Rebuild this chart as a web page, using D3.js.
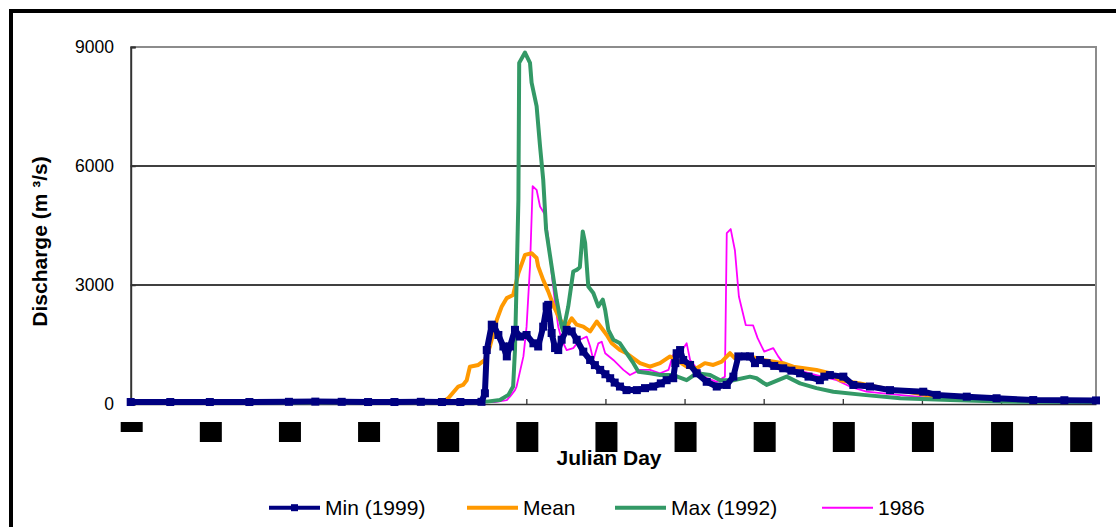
<!DOCTYPE html>
<html>
<head>
<meta charset="utf-8">
<script src="https://cdn.jsdelivr.net/npm/d3@7"></script>
<style>
  html, body { margin: 0; padding: 0; background: #fff; }
  svg { display: block; font-family: "Liberation Sans", Arial, sans-serif; }
</style>
</head>
<body>
<svg id="chart" width="1116" height="527"></svg>
<script>
// daily discharge, [julian day, m3/s]
var min1999 = [[0,50],[15,50],[30,50],[45,50],[60,55],[70,60],[80,55],[90,50],[100,50],[110,55],[118,50],[125,50],[133,55],[134.3,270],[135,1360],[136.9,2000],[137.8,1950],
    [139.4,1740],[141.3,1450],[142.6,1200],[143.8,1450],[145.7,1870],[147.6,1700],[150.1,1740],[152.7,1530],[154.5,1450],
    [156.4,1950],[157.7,2460],[158.3,2500],[159.6,1790],[160.9,1410],[162.1,1360],[163.4,1620],[165.3,1870],[167.2,1830],
    [169.1,1620],[171.6,1320],[174.2,1110],[176,980],[178,860],[180,750],[181.8,650],[183.5,540],[185.5,440],[188,350],
    [191.9,350],[195,400],[198.1,440],[201,520],[203.2,600],[205.7,650],[206.5,1030],[207,1280],[208.3,1360],[209.5,1110],
    [212.1,985],[214.6,775],[218.4,560],[222.2,440],[226,480],[228.5,690],[230.4,1200],[233,1200],[234.8,1200],[236.7,1030],
    [238.6,1110],[241.1,1030],[244,960],[247.4,900],[250.5,840],[253.8,775],[257,690],[261.3,600],[263,690],[265.1,730],
    [270.2,690],[274,480],[280.3,440],[287.9,350],[300.5,310],[305.6,230],[317,185],[328.3,145],[342.2,100],[354,95],[366,90]];

var meanQ = [[0,30],[60,30],[100,35],[118,40],[120.4,145],[122.5,310],[124.2,440],[126,480],[127.4,600],[128.6,940],[131.8,985],
    [134.3,1110],[136.2,1450],[138.8,2120],[140.7,2460],[142.6,2670],[145,2750],[147,3300],[149.5,3760],[152,3800],
    [153.9,3680],[154.5,3470],[156.4,3130],[158.3,2840],[160.2,2500],[162.8,2120],[165.3,1950],[167.2,2160],[169.1,2000],
    [171.6,1950],[174.2,1830],[176.7,2080],[178.6,1910],[180.5,1740],[182.4,1530],[185.5,1360],[188,1280],[190.6,1150],
    [193.1,1030],[196.9,940],[200.7,1030],[204.5,1200],[207,1110],[210.8,940],[214.6,900],[217.7,1030],[220.9,985],
    [224.1,1070],[227.2,1280],[229.1,1150],[234.8,1200],[239.8,1110],[247.4,1030],[251.2,940],[260,860],[265.1,775],
    [268.9,600],[276.5,520],[285.3,400],[298,270],[308,145],[323,100],[366,70]];

var max1992 = [[0,30],[60,30],[100,35],[130,40],[135,60],[140,100],[143.2,230],[145,440],[145.7,1360],[146.3,3050],[147,5150],
    [147.3,8600],[149.5,8860],[151.4,8600],[152,8100],[153.9,7510],[155.2,6500],[156.4,5660],[157.5,4400],[159.6,3470],
    [161.5,2630],[163.4,1950],[164,1830],[165.9,2460],[167.8,3340],[169.1,3380],[170.3,3450],[171.4,4350],[172.3,4060],
    [173.5,2960],[175.4,2800],[177.3,2460],[179,2630],[179.9,2370],[181.1,1870],[183,1620],[185.5,1530],[188,1280],
    [190.6,1030],[192.5,815],[196.9,775],[200.7,730],[205.7,730],[210.8,600],[214.6,775],[219.7,730],[223.5,600],
    [228.5,600],[234.8,690],[237.3,650],[241.1,480],[248.7,690],[253.8,520],[260,400],[266.4,310],[277.8,230],
    [291.8,145],[310.7,100],[330,60],[366,50]];

var y1986 = [[0,30],[60,30],[100,35],[138,50],[142.6,100],[143.8,185],[145.7,350],[146.3,440],[148.9,1200],[150.1,1950],
    [151.4,3470],[152.4,5490],[153.9,5400],[155.2,4980],[157.1,4770],[158.3,4200],[159.6,3300],[160.9,2540],[162.1,1950],
    [163.4,1620],[165.3,1360],[167.8,1410],[170.3,1620],[172.9,1700],[174.2,1450],[175.4,1110],[177.3,1530],[178.6,1570],
    [179.9,1280],[183,1110],[186.8,860],[189.3,730],[193.1,860],[196.9,860],[200.7,775],[203.9,860],[205.7,1240],
    [208.3,1280],[210.8,1530],[212.1,1110],[214.6,900],[218.4,650],[222.2,560],[225.3,690],[226,4310],[227.5,4410],
    [229.1,3870],[230.6,2710],[233.2,1990],[236,1980],[237.7,1660],[240.2,1320],[243.6,1410],[245.5,1200],[247.4,1030],
    [252.5,860],[260,730],[267.7,600],[272.7,440],[279,310],[285.3,270],[298,185],[310.7,100],[330,80],[366,60]];

var seriesNames = ["Min (1999)", "Mean", "Max (1992)", "1986"];
var yTicks = [0, 3000, 6000, 9000];
var xTicks = [0, 30, 60, 90, 120, 150, 180, 210, 240, 270, 300, 330, 360];

var svg = d3.select("#chart");

// outer frame
svg.append("rect")
    .attr("x", 11).attr("y", 11)
    .attr("width", 1200).attr("height", 600)
    .attr("fill", "#fff")
    .attr("stroke", "#000")
    .attr("stroke-width", 4);

var x = d3.scaleLinear().domain([0, 366]).range([130.7, 1096]);
var y = d3.scaleLinear().domain([0, 9000]).range([404, 47]);

// gridlines
svg.append("g")
    .selectAll("line")
    .data([3000, 6000])
    .enter()
    .append("line")
    .attr("x1", x(0)).attr("x2", x(366))
    .attr("y1", function (d) { return y(d); })
    .attr("y2", function (d) { return y(d); })
    .attr("stroke", "#000")
    .attr("stroke-width", 1.3);

// plot border top / right
svg.append("path")
    .attr("d", "M" + x(0) + "," + y(9000) + "H" + x(366) + "V" + y(0))
    .attr("fill", "none")
    .attr("stroke", "#8c8c8c")
    .attr("stroke-width", 2);

// y axis
var yAxis = d3.axisRight(y)
    .tickValues(yTicks)
    .tickSize(5)
    .tickFormat("");
var gy = svg.append("g")
    .attr("transform", "translate(" + x(0) + ",0)")
    .call(yAxis);
gy.select(".domain").attr("stroke", "#333").attr("stroke-width", 2);
gy.selectAll(".tick line").attr("stroke", "#333").attr("stroke-width", 1.5);

svg.append("g")
    .selectAll("text")
    .data(yTicks)
    .enter()
    .append("text")
    .attr("x", 114)
    .attr("y", function (d) { return y(d); })
    .attr("dy", "0.36em")
    .attr("text-anchor", "end")
    .style("font-size", "17.5px")
    .attr("fill", "#000")
    .text(function (d) { return d; });

// x axis, ticks point up into the plot
var xAxis = d3.axisTop(x)
    .tickValues(xTicks)
    .tickSize(5)
    .tickSizeOuter(0)
    .tickFormat("");
var gx = svg.append("g")
    .attr("transform", "translate(0," + y(0) + ")")
    .call(xAxis);
gx.select(".domain").attr("stroke", "#333").attr("stroke-width", 1.5);
gx.selectAll(".tick line").attr("stroke", "#333").attr("stroke-width", 1.3);

// x tick labels show up as solid blocks, one block row per digit
svg.append("g")
    .selectAll("rect")
    .data(xTicks)
    .enter()
    .append("rect")
    .attr("x", function (d) { return x(d) - 10; })
    .attr("y", 422)
    .attr("width", 22)
    .attr("height", function (d) { return String(d).length * 10; })
    .attr("fill", "#000");

// lines
var line = d3.line()
    .x(function (d) { return x(d[0]); })
    .y(function (d) { return y(d[1]); });

function drawSeries(data, color, width) {
    svg.append("path")
        .datum(data)
        .attr("d", line)
        .attr("fill", "none")
        .attr("stroke", color)
        .attr("stroke-width", width)
        .attr("stroke-linejoin", "round");
}

drawSeries(y1986, "#ff00ff", 1.8);
drawSeries(meanQ, "#ff9900", 4);
drawSeries(max1992, "#339966", 4);
drawSeries(min1999, "#000080", 6);

svg.append("g")
    .selectAll("rect")
    .data(min1999)
    .enter()
    .append("rect")
    .attr("x", function (d) { return x(d[0]) - 4; })
    .attr("y", function (d) { return y(d[1]) - 4; })
    .attr("width", 8)
    .attr("height", 8)
    .attr("fill", "#000080");

// axis titles
svg.append("text")
    .attr("x", 609)
    .attr("y", 465)
    .attr("text-anchor", "middle")
    .style("font-size", "21px")
    .style("font-weight", "bold")
    .text("Julian Day");

svg.append("text")
    .attr("transform", "translate(47,241.5) rotate(-90)")
    .attr("text-anchor", "middle")
    .style("font-size", "21px")
    .style("font-weight", "bold")
    .text("Discharge (m \u00b3/s)");

// legend
var legendX = [269, 467, 615, 822];
var legendColors = ["#000080", "#ff9900", "#339966", "#ff00ff"];
var legendWidths = [4, 4, 4, 2];
var legend = svg.append("g");

seriesNames.forEach(function (name, i) {
    var g = legend.append("g").attr("transform", "translate(" + legendX[i] + ",507.7)");
    g.append("line")
        .attr("x1", 0).attr("x2", 51)
        .attr("stroke", legendColors[i])
        .attr("stroke-width", legendWidths[i]);
    if (i == 0) {
        g.append("rect")
            .attr("x", 22).attr("y", -3.5)
            .attr("width", 7).attr("height", 7)
            .attr("fill", legendColors[i]);
    }
    g.append("text")
        .attr("x", 56)
        .attr("y", 7.5)
        .style("font-size", "21px")
        .attr("fill", "#000")
        .text(name);
});
</script>
</body>
</html>
